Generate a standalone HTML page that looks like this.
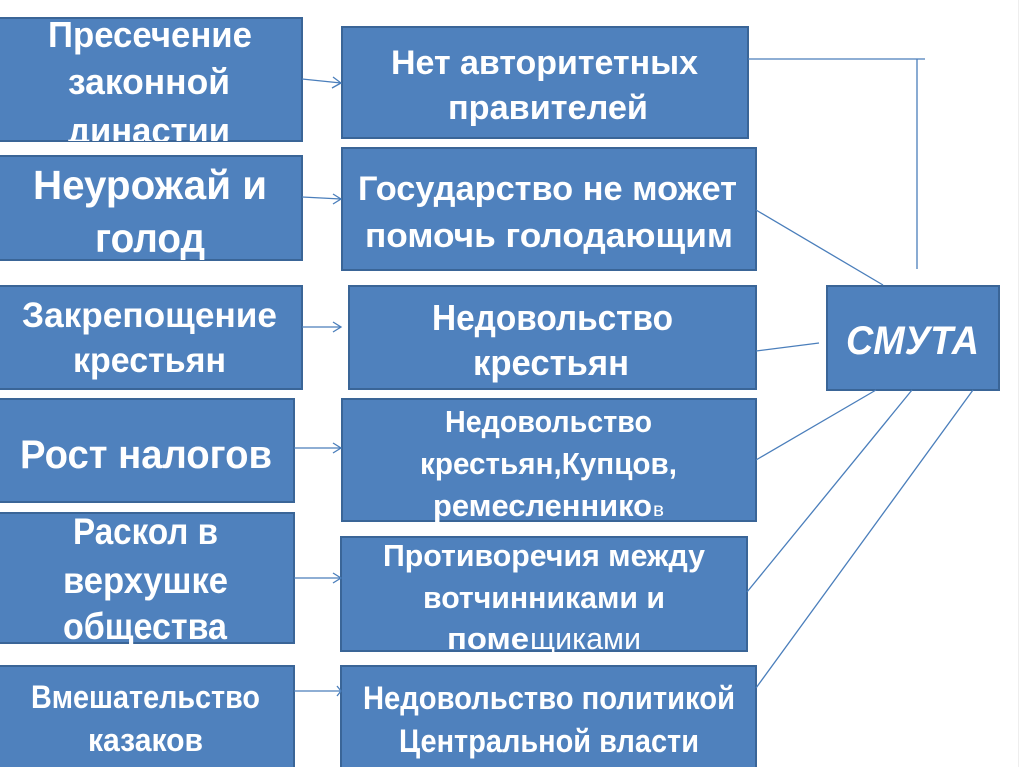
<!DOCTYPE html>
<html>
<head>
<meta charset="utf-8">
<style>
html,body{margin:0;padding:0;background:#fff;}
svg{display:block;}
text{font-family:"Liberation Sans","DejaVu Sans",sans-serif;font-weight:bold;fill:#fff;}
.n{font-weight:normal;}
</style>
</head>
<body>
<svg width="1024" height="767" viewBox="0 0 1024 767" xmlns="http://www.w3.org/2000/svg">
<defs>
<clipPath id="c1"><rect x="0" y="18" width="302" height="123"/></clipPath>
</defs>
<rect x="0" y="0" width="1024" height="767" fill="#fff"/>
<line x1="1018.5" y1="0" x2="1018.5" y2="767" stroke="#eeeeee" stroke-width="1"/>

<g fill="#4f81bd" stroke="#3a6597" stroke-width="2">
<rect x="-3" y="18" width="305" height="123"/>
<rect x="-3" y="156" width="305" height="104"/>
<rect x="-3" y="286" width="305" height="103"/>
<rect x="-3" y="399" width="297" height="103"/>
<rect x="-3" y="513" width="297" height="130"/>
<rect x="-3" y="666" width="297" height="110"/>
<rect x="342" y="27" width="406" height="111"/>
<rect x="342" y="148" width="414" height="122"/>
<rect x="349" y="286" width="407" height="103"/>
<rect x="342" y="399" width="414" height="122"/>
<rect x="341" y="537" width="406" height="114"/>
<rect x="341" y="666" width="415" height="110"/>
<rect x="827" y="286" width="172" height="104"/>
</g>

<g stroke="#4a7ebb" stroke-width="1.3" fill="none">
<line x1="302" y1="79" x2="341" y2="83"/>
<polyline points="333,77 341,83 332,88"/>
<line x1="302" y1="197" x2="341" y2="199"/>
<polyline points="333,194 341,199 333,204"/>
<line x1="302" y1="327" x2="341" y2="327"/>
<polyline points="333,322 341,327 333,332"/>
<line x1="294" y1="448" x2="341" y2="448"/>
<polyline points="333,443 341,448 333,453"/>
<line x1="294" y1="578" x2="341" y2="578"/>
<polyline points="333,573 341,578 333,583"/>
<line x1="294" y1="691" x2="341" y2="691"/>
<polyline points="337,686 341,691 337,696"/>

<line x1="748" y1="59" x2="925" y2="59"/>
<line x1="917" y1="59" x2="917" y2="269"/>
<line x1="756" y1="210" x2="883" y2="285"/>
<line x1="756" y1="351" x2="819" y2="343"/>
<line x1="756" y1="460" x2="876" y2="390"/>
<line x1="747" y1="592" x2="912" y2="390"/>
<line x1="756" y1="688" x2="973" y2="390"/>
</g>

<g clip-path="url(#c1)">
<text x="48" y="47" font-size="36" textLength="204" lengthAdjust="spacingAndGlyphs">Пресечение</text>
<text x="68" y="94" font-size="36" textLength="162" lengthAdjust="spacingAndGlyphs">законной</text>
<text x="68" y="143" font-size="36" textLength="162" lengthAdjust="spacingAndGlyphs">династии</text>
</g>
<text x="33" y="199" font-size="41" textLength="234" lengthAdjust="spacingAndGlyphs">Неурожай и</text>
<text x="95" y="252" font-size="41" textLength="110" lengthAdjust="spacingAndGlyphs">голод</text>
<text x="22" y="327" font-size="35" textLength="255" lengthAdjust="spacingAndGlyphs">Закрепощение</text>
<text x="73" y="372" font-size="35" textLength="153" lengthAdjust="spacingAndGlyphs">крестьян</text>
<text x="20" y="468" font-size="40" textLength="252" lengthAdjust="spacingAndGlyphs">Рост налогов</text>
<text x="73" y="544" font-size="37" textLength="145" lengthAdjust="spacingAndGlyphs">Раскол в</text>
<text x="63" y="593" font-size="37" textLength="165" lengthAdjust="spacingAndGlyphs">верхушке</text>
<text x="63" y="639" font-size="37" textLength="164" lengthAdjust="spacingAndGlyphs">общества</text>
<text x="31" y="708" font-size="32" textLength="229" lengthAdjust="spacingAndGlyphs">Вмешательство</text>
<text x="88" y="751" font-size="32" textLength="115" lengthAdjust="spacingAndGlyphs">казаков</text>

<text x="391" y="74" font-size="34" textLength="307" lengthAdjust="spacingAndGlyphs">Нет авторитетных</text>
<text x="448" y="119" font-size="34" textLength="200" lengthAdjust="spacingAndGlyphs">правителей</text>
<text x="358" y="200" font-size="34" textLength="379" lengthAdjust="spacingAndGlyphs">Государство не может</text>
<text x="365" y="247" font-size="34" textLength="368" lengthAdjust="spacingAndGlyphs">помочь голодающим</text>
<text x="432" y="330" font-size="36" textLength="241" lengthAdjust="spacingAndGlyphs">Недовольство</text>
<text x="473" y="375" font-size="36" textLength="156" lengthAdjust="spacingAndGlyphs">крестьян</text>
<text x="445" y="432" font-size="31" textLength="207" lengthAdjust="spacingAndGlyphs">Недовольство</text>
<text x="420" y="474" font-size="31" textLength="257" lengthAdjust="spacingAndGlyphs">крестьян,Купцов,</text>
<text x="433" y="516" font-size="31" textLength="219" lengthAdjust="spacingAndGlyphs">ремесленнико</text>
<text x="653" y="516" font-size="19" class="n" textLength="11" lengthAdjust="spacingAndGlyphs">в</text>
<text x="383" y="566" font-size="31" textLength="322" lengthAdjust="spacingAndGlyphs">Противоречия между</text>
<text x="423" y="608" font-size="31" textLength="242" lengthAdjust="spacingAndGlyphs">вотчинниками и</text>
<text x="447" y="649" font-size="31" textLength="82" lengthAdjust="spacingAndGlyphs">поме</text>
<text x="530" y="649" font-size="31" class="n" textLength="111" lengthAdjust="spacingAndGlyphs">щиками</text>
<text x="363" y="709" font-size="32" textLength="372" lengthAdjust="spacingAndGlyphs">Недовольство политикой</text>
<text x="399" y="752" font-size="32" textLength="300" lengthAdjust="spacingAndGlyphs">Центральной власти</text>

<text x="846" y="354" font-size="40" font-style="italic" textLength="133" lengthAdjust="spacingAndGlyphs">СМУТА</text>
</svg>
</body>
</html>
